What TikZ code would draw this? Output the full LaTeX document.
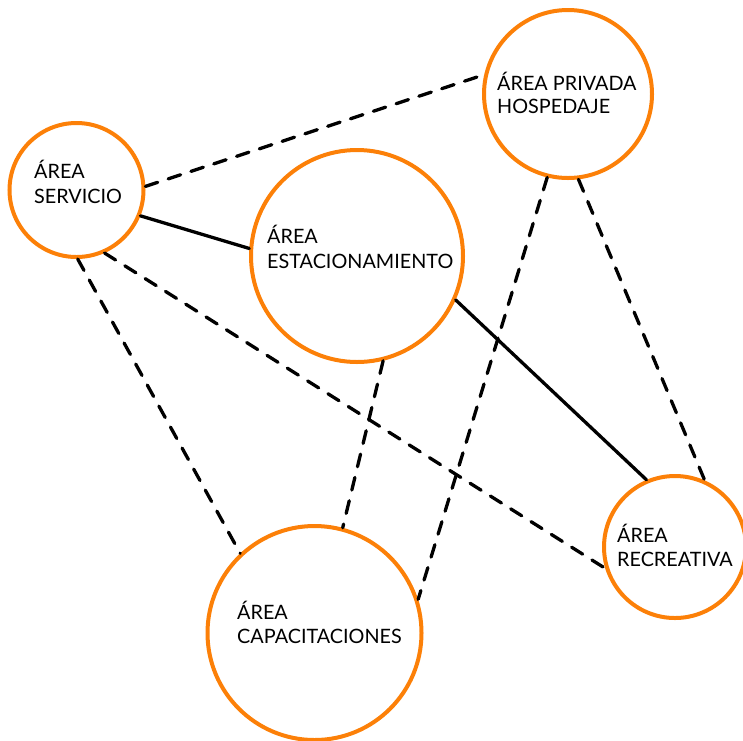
\documentclass[tikz,border=0pt]{standalone}
\usepackage{fontspec}
\setmainfont{Lato}
\definecolor{ringorange}{RGB}{252,128,8}
\begin{document}
\begin{tikzpicture}[x=1pt,y=-1pt,
  area/.style={circle,draw=ringorange,line width=4pt,fill=white,inner sep=0pt},
  lbl/.style={anchor=base west,inner sep=0pt,font=\fontsize{19.8}{24}\selectfont},
  conn/.style={line width=3.3pt,line cap=round,black},
  dconn/.style={conn,dash pattern=on 13pt off 11pt}]
\useasboundingbox (0,0) rectangle (743,740);
\node[area,minimum size=134pt] (srv) at (76.5,190) {};
\node[area,minimum size=168pt] (hosp) at (568,94) {};
\node[area,minimum size=212pt] (est) at (357,256) {};
\node[area,minimum size=214pt] (cap) at (314.5,633) {};
\node[area,minimum size=142pt] (rec) at (675,547) {};
\draw[dconn] (srv.3.4) -- (hosp.167);
\draw[conn] (srv.-22) -- (est.176);
\draw[dconn] (srv.-89.5) -- (cap.133);
\draw[dconn] (srv.-66) -- (rec.-163.6);
\draw[dconn] (hosp.-104.5) -- (cap.18.2);
\draw[dconn] (hosp.-83.8) -- (rec.66.7);
\draw[conn] (est.-24.6) -- (rec.113.3);
\draw[dconn] (est.-76) -- (cap.75.2);
\node[lbl] (srvA) at (34,178) {ÁREA};
\node[lbl] (srvB) at (34,203) {SERVICIO};
\node[lbl] (hospA) at (497,90) {ÁREA PRIVADA};
\node[lbl] (hospB) at (497,113) {HOSPEDAJE};
\node[lbl] (estA) at (267,243) {ÁREA};
\node[lbl] (estB) at (267,268) {ESTACIONAMIENTO};
\node[lbl] (capA) at (237,619) {ÁREA};
\node[lbl] (capB) at (237,643) {CAPACITACIONES};
\node[lbl] (recA) at (617,542) {ÁREA};
\node[lbl] (recB) at (617,566) {RECREATIVA};
\end{tikzpicture}
\end{document}
